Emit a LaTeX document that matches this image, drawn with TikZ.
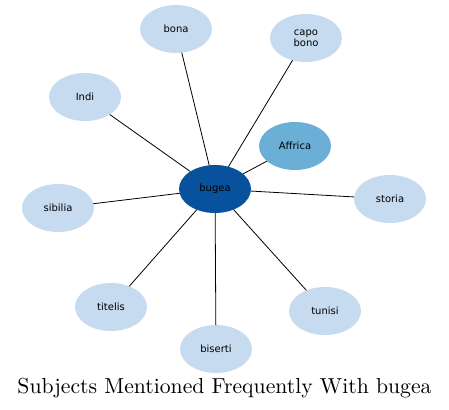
\documentclass[tikz,border=0pt]{standalone}
\usepackage{fontspec}
\usetikzlibrary{shapes.geometric}
\newfontfamily\labfont{DejaVu Sans}
\definecolor{leaffill}{HTML}{C6DBEF}
\definecolor{midfill}{HTML}{6BAED6}
\definecolor{hubfill}{HTML}{08519C}
\tikzset{
    ttl/.style={
        font=\fontsize{10}{12}\selectfont, inner sep=0pt, anchor=base
    }
}

\begin{document}
\begin{tikzpicture}[x=1pt,y=-1pt, line cap=round, line join=round]

% node + edge styles
\tikzset{
  link/.style={draw=black, line width=0.8pt},
  leaf/.style={ellipse, fill=leaffill, minimum width=72pt, minimum height=48pt, inner sep=0pt, font=\labfont\fontsize{10}{11}\selectfont, align=center},
  mid/.style={leaf, fill=midfill},
  hub/.style={leaf, fill=hubfill},
}

  \useasboundingbox (0,0) rectangle (449,409);

  % nodes
  \node[hub] (bugea) at (215,189) {bugea};
  \node[leaf] (bona) at (176,29) {bona};
  \node[leaf] (capo) at (306,38) {capo\\bono};
  \node[leaf] (indi) at (85,97) {Indi};
  \node[mid] (affrica) at (295,146) {Affrica};
  \node[leaf] (sibilia) at (58,208) {sibilia};
  \node[leaf] (storia) at (390,199) {storia};
  \node[leaf] (titelis) at (111,307) {titelis};
  \node[leaf] (biserti) at (216,349) {biserti};
  \node[leaf] (tunisi) at (325,311) {tunisi};

  % edges
  \foreach \n in {bona,capo,indi,affrica,sibilia,storia,titelis,biserti,tunisi}
    \draw[link] (bugea) -- (\n);

  % title
  \node[ttl] (title) at (224.5,393) {\resizebox{414pt}{!}{Subjects Mentioned Frequently With bugea}};

\end{tikzpicture}
\end{document}
